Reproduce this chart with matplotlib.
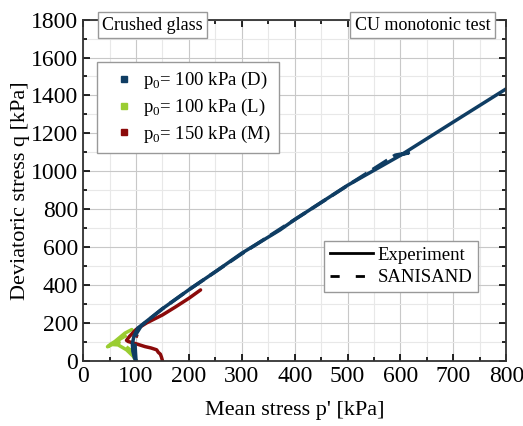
import matplotlib
matplotlib.use("Agg")
import matplotlib.pyplot as plt
from matplotlib.lines import Line2D
from matplotlib.ticker import MultipleLocator

plt.rcParams['font.family'] = ['Liberation Serif', 'DejaVu Serif']
plt.rcParams['mathtext.fontset'] = 'custom'
plt.rcParams['mathtext.rm'] = 'Liberation Serif'

# ---- data (p' [kPa], q [kPa]) ----
p_D_exp = [100, 97, 94, 93, 96, 103, 150, 200, 250, 300, 372, 400, 500, 600, 700, 800]
q_D_exp = [0, 15, 50, 90, 130, 172, 275, 375, 470, 568, 690, 745, 926, 1084, 1260, 1435]
p_D_sim = [100, 99, 98, 100, 110, 150, 200, 300, 400, 500, 590, 623, 605, 590]
q_D_sim = [0, 40, 90, 140, 185, 275, 375, 565, 745, 925, 1085, 1102, 1090, 1080]

p_L_exp = [100, 95, 82, 66, 55, 46, 52, 60, 79, 92]
q_L_exp = [0, 23, 58, 84, 86, 74, 88, 102, 146, 165]
p_L_sim = [100, 96, 88, 75, 62, 70, 85, 98]
q_L_sim = [0, 30, 60, 88, 100, 115, 140, 160]

p_M_exp = [150, 148, 146, 142, 139, 128, 117, 100, 85, 82, 88, 100, 120, 150, 175, 200, 222]
q_M_exp = [0, 20, 35, 45, 58, 68, 75, 90, 102, 108, 130, 165, 200, 242, 285, 330, 374]
p_M_sim = [104, 98, 96, 100, 104]
q_M_sim = [128, 134, 145, 158, 170]

C_D = '#0f3d63'
C_L = '#9acd32'
C_M = '#8b0a0a'

fig = plt.figure(figsize=(5.23, 4.26), dpi=100)
ax = fig.add_axes([0.159, 0.153, 0.809, 0.801])

lw = 2.5
ax.plot(p_L_exp, q_L_exp, color=C_L, lw=lw, solid_capstyle='round')
ax.plot(p_L_sim, q_L_sim, color=C_L, lw=lw, ls=(0, (5, 2)))
ax.plot(p_M_exp, q_M_exp, color=C_M, lw=lw, solid_capstyle='round')
ax.plot(p_M_sim, q_M_sim, color=C_M, lw=lw, ls=(0, (5, 2)))
ax.plot(p_D_exp, q_D_exp, color=C_D, lw=lw, solid_capstyle='round')
ax.plot(p_D_sim, q_D_sim, color=C_D, lw=lw, ls=(0, (5, 2)))

ax.set_xlim(0, 800)
ax.set_ylim(0, 1800)
ax.xaxis.set_major_locator(MultipleLocator(100))
ax.xaxis.set_minor_locator(MultipleLocator(50))
ax.yaxis.set_major_locator(MultipleLocator(200))
ax.yaxis.set_minor_locator(MultipleLocator(100))
ax.tick_params(which='both', direction='in', top=True, right=True, labelsize=17, width=1.2)
ax.tick_params(which='major', length=5)
ax.tick_params(which='minor', length=3)
ax.grid(which='major', color='#c8c8c8', lw=0.8)
ax.grid(which='minor', color='#e8e8e8', lw=0.8)
ax.set_axisbelow(True)
for s in ax.spines.values():
    s.set_linewidth(1.3)
    s.set_color('#333333')

ax.set_xlabel("Mean stress p' [kPa]", fontsize=16, labelpad=10)
ax.set_ylabel("Deviatoric stress q [kPa]", fontsize=16, labelpad=1)

box = dict(boxstyle='square,pad=0.25', fc='white', ec='#999999', lw=1)
ax.text(0.045, 0.983, 'Crushed glass', transform=ax.transAxes, fontsize=13,
        va='center', ha='left', bbox=box)
ax.text(0.962, 0.983, 'CU monotonic test', transform=ax.transAxes, fontsize=13,
        va='center', ha='right', bbox=box)

# legend of the three tests
h1 = [Line2D([], [], ls='none', marker='s', ms=5, color=c) for c in (C_D, C_L, C_M)]
leg1 = ax.legend(h1, ['p$_0$= 100 kPa (D)', 'p$_0$= 100 kPa (L)', 'p$_0$= 150 kPa (M)'],
                 loc='upper left', bbox_to_anchor=(0.032, 0.876), borderaxespad=0,
                 fontsize=13.5, fancybox=False, edgecolor='#999999', framealpha=1,
                 handlelength=2.0, handletextpad=0.0, borderpad=0.45, labelspacing=0.3)
leg1.get_frame().set_linewidth(1)
ax.add_artist(leg1)

# legend of line styles
h2 = [Line2D([], [], color='black', lw=2),
      Line2D([], [], color='black', lw=2, ls=(0, (3.3, 5.8)))]
leg2 = ax.legend(h2, ['Experiment', 'SANISAND'], loc='lower right',
                 bbox_to_anchor=(0.933, 0.202), borderaxespad=0, fontsize=13.5,
                 fancybox=False, edgecolor='#999999', framealpha=1,
                 handlelength=2.3, handletextpad=0.25, borderpad=0.3,
                 labelspacing=0.3)
leg2.get_frame().set_linewidth(1)

fig.savefig('out.png', dpi=100)
